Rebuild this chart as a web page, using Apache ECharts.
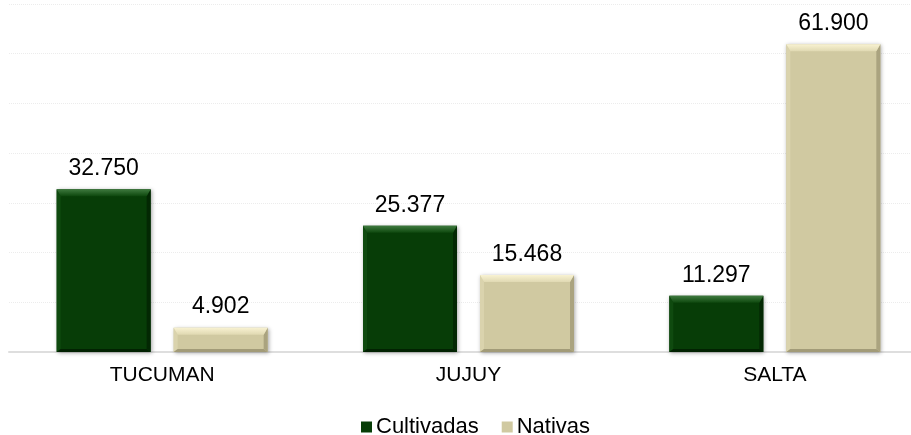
<!DOCTYPE html>
<html>
<head>
<meta charset="utf-8">
<script src="https://cdn.jsdelivr.net/npm/echarts@6/dist/echarts.min.js"></script>
<style>
html,body{margin:0;padding:0;background:#fff;}
#chart{width:911px;height:435px;}
</style>
</head>
<body>
<div id="chart"></div>
<script>
var categories = ['TUCUMAN', 'JUJUY', 'SALTA'];
var seriesNames = ['Cultivadas', 'Nativas'];
var cultivadas = [32750, 25377, 11297];
var nativas = [4902, 15468, 61900];
var yMin = 0, yMax = 70000, yStep = 10000;

var FONT = '"Liberation Sans", Arial, sans-serif';
var BAR_W = 94, GAP = 23;
var palette = [
  {main: '#073d07', top0: '#3f7a3f', top1: '#0d470d', left: '#0f4a0f', right: '#032803', bottom: '#022202'},
  {main: '#d0c9a1', top0: '#f8f2d2', top1: '#e0d9b2', left: '#dad3ad', right: '#aaa37f', bottom: '#a29b78'}
];

function fmt(v) {
  return String(Math.round(v)).replace(/\B(?=(\d{3})+(?!\d))/g, '.');
}

function bevel(sIdx) {
  return function (params, api) {
    var cat = api.value(0), v = api.value(1);
    var p0 = api.coord([cat, 0]);
    var p1 = api.coord([cat, v]);
    var x0 = p0[0] - (2 * BAR_W + GAP) / 2 + sIdx * (BAR_W + GAP);
    var x1 = x0 + BAR_W;
    var yT = p1[1], yB = p0[1];
    var h = yB - yT;
    var t = Math.min(7, h / 2), s = 4, b = 3;
    var c = palette[sIdx];
    return {
      type: 'group',
      children: [
        {type: 'polygon', shape: {points: [[x0, yT], [x0 + s, yT + t], [x0 + s, yB - b], [x0, yB]]}, style: {fill: c.left}},
        {type: 'polygon', shape: {points: [[x1, yT], [x1 - s, yT + t], [x1 - s, yB - b], [x1, yB]]}, style: {fill: c.right}},
        {type: 'polygon', shape: {points: [[x0, yB], [x0 + s, yB - b], [x1 - s, yB - b], [x1, yB]]}, style: {fill: c.bottom}},
        {type: 'polygon', shape: {points: [[x0, yT], [x1, yT], [x1 - s, yT + t], [x0 + s, yT + t]]},
          style: {fill: new echarts.graphic.LinearGradient(0, 0, 0, 1, [{offset: 0, color: c.top0}, {offset: 1, color: c.top1}])}}
      ]
    };
  };
}

var chart = echarts.init(document.getElementById('chart'), null, {renderer: 'canvas'});
var dataArr = [cultivadas, nativas];
var series = [];
seriesNames.forEach(function (name, i) {
  series.push({
    name: name,
    type: 'bar',
    data: dataArr[i],
    barWidth: BAR_W,
    barGap: (GAP / BAR_W * 100) + '%',
    itemStyle: {color: palette[i].main, shadowBlur: 4, shadowColor: 'rgba(0,0,0,0.35)', shadowOffsetX: 1, shadowOffsetY: 1},
    label: {
      show: true, position: 'top', distance: 9,
      fontFamily: FONT, fontSize: 23, color: '#000',
      formatter: function (p) { return fmt(p.value); }
    },
    z: 2
  });
});
seriesNames.forEach(function (name, i) {
  series.push({
    name: name + '_bevel',
    type: 'custom',
    renderItem: bevel(i),
    data: dataArr[i].map(function (v, k) { return [k, v]; }),
    encode: {x: 0, y: 1},
    silent: true,
    z: 3
  });
});

chart.setOption({
  animation: false,
  backgroundColor: '#ffffff',
  color: [palette[0].main, palette[1].main],
  grid: {left: 9, top: 4, width: 919, height: 348, containLabel: false, outerBoundsMode: 'none'},
  legend: {
    data: seriesNames,
    left: 356, top: 411,
    icon: 'rect', itemWidth: 11, itemHeight: 11, itemGap: 23,
    textStyle: {fontFamily: FONT, fontSize: 22, color: '#000', padding: [0, 0, 0, -1]}
  },
  xAxis: {
    type: 'category',
    data: categories,
    axisLine: {show: true, lineStyle: {color: '#dedede', width: 2}},
    axisTick: {show: false},
    axisLabel: {fontFamily: FONT, fontSize: 21, color: '#000', margin: 13}
  },
  yAxis: {
    type: 'value',
    min: yMin, max: yMax, interval: yStep,
    axisLine: {show: false},
    axisTick: {show: false},
    axisLabel: {show: false},
    splitLine: {show: true, lineStyle: {color: '#ececec', type: 'dotted', width: 1}}
  },
  series: series
});
</script>
</body>
</html>
